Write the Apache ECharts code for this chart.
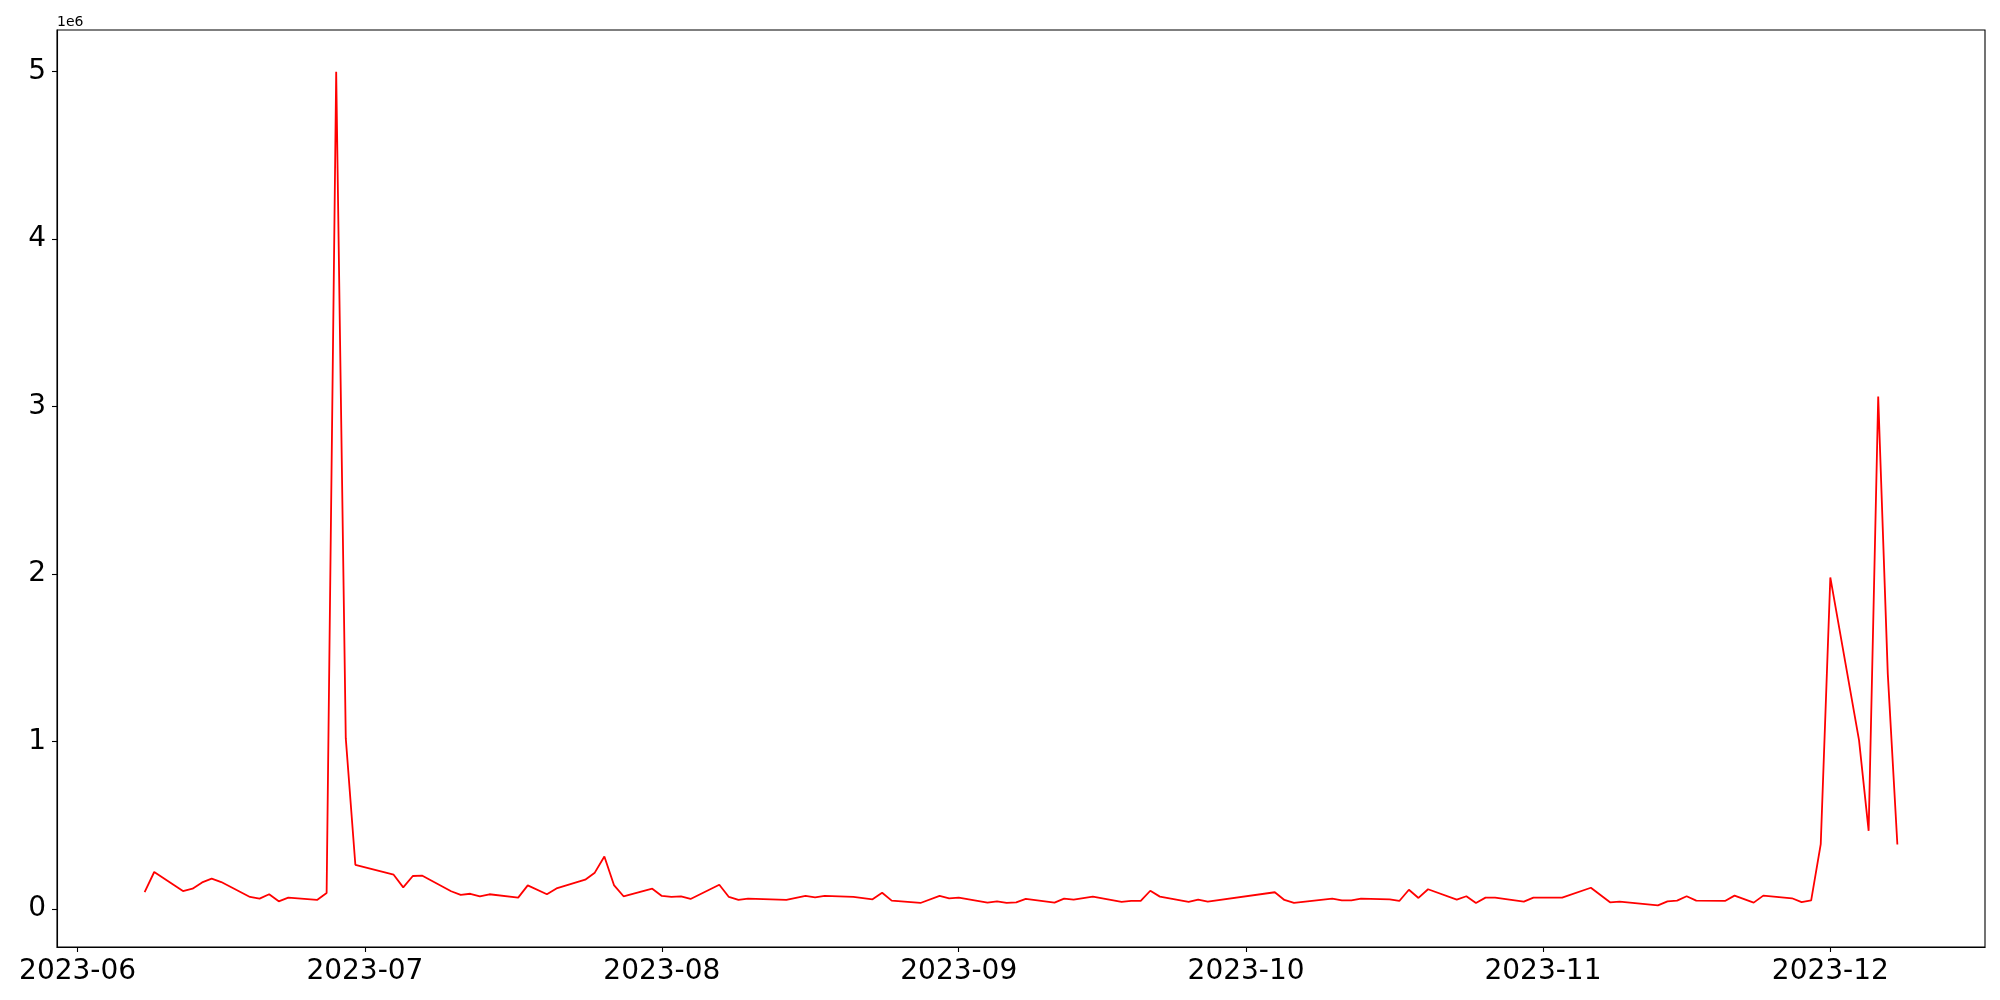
<!DOCTYPE html>
<html>
<head>
<meta charset="utf-8">
<script src="https://cdn.jsdelivr.net/npm/echarts@6/dist/echarts.min.js"></script>
<style>
  html, body { margin: 0; padding: 0; background: #fff; }
  #chart { width: 2000px; height: 1000px; }
</style>
</head>
<body>
<div id="chart"></div>
<script>
// ---- data ----
const dates = [
  '2023-06-08','2023-06-09','2023-06-12','2023-06-13','2023-06-14','2023-06-15','2023-06-16',
  '2023-06-19','2023-06-20','2023-06-21','2023-06-22','2023-06-23','2023-06-26','2023-06-27',
  '2023-06-28','2023-06-29','2023-06-30','2023-07-04','2023-07-05','2023-07-06','2023-07-07',
  '2023-07-10','2023-07-11','2023-07-12','2023-07-13','2023-07-14','2023-07-17','2023-07-18',
  '2023-07-20','2023-07-21','2023-07-24','2023-07-25','2023-07-26','2023-07-27','2023-07-28',
  '2023-07-31','2023-08-01','2023-08-02','2023-08-03','2023-08-04','2023-08-07','2023-08-08',
  '2023-08-09','2023-08-10','2023-08-14','2023-08-16','2023-08-17','2023-08-18','2023-08-21',
  '2023-08-23','2023-08-24','2023-08-25','2023-08-28','2023-08-30','2023-08-31','2023-09-01',
  '2023-09-04','2023-09-05','2023-09-06','2023-09-07','2023-09-08','2023-09-11','2023-09-12',
  '2023-09-13','2023-09-15','2023-09-18','2023-09-19','2023-09-20','2023-09-21','2023-09-22',
  '2023-09-25','2023-09-26','2023-09-27','2023-10-04','2023-10-05','2023-10-06','2023-10-10',
  '2023-10-11','2023-10-12','2023-10-13','2023-10-16','2023-10-17','2023-10-18','2023-10-19',
  '2023-10-20','2023-10-23','2023-10-24','2023-10-25','2023-10-26','2023-10-27','2023-10-30',
  '2023-10-31','2023-11-03','2023-11-06','2023-11-08','2023-11-09','2023-11-13','2023-11-14',
  '2023-11-15','2023-11-16','2023-11-17','2023-11-20','2023-11-21','2023-11-23','2023-11-24',
  '2023-11-27','2023-11-28','2023-11-29','2023-11-30','2023-12-01','2023-12-04','2023-12-05',
  '2023-12-06','2023-12-07','2023-12-08'
];
const values = [
  101000, 221000, 107000, 121000, 159000, 181000, 161000,
  72000, 62000, 88000, 46000, 68000, 54000, 95000,
  5000000, 1020000, 264000, 205000, 129000, 197000, 199000,
  106000, 84000, 91000, 76000, 88000, 68000, 141000,
  88000, 123000, 175000, 217000, 314000, 143000, 76000,
  121000, 78000, 72000, 76000, 60000, 145000, 72000,
  54000, 62000, 54000, 78000, 70000, 78000, 72000,
  58000, 97000, 50000, 36000, 78000, 64000, 68000,
  38000, 46000, 36000, 40000, 60000, 38000, 62000,
  56000, 74000, 42000, 48000, 48000, 109000, 74000,
  42000, 56000, 44000, 100000, 54000, 36000, 62000,
  52000, 52000, 62000, 58000, 48000, 115000, 66000,
  118000, 56000, 76000, 36000, 68000, 68000, 44000,
  68000, 68000, 127000, 40000, 44000, 22000, 46000,
  50000, 76000, 50000, 48000, 80000, 38000, 80000,
  64000, 41000, 51000, 388000, 1980000, 1007000, 467000,
  3060000, 1404000, 385000
];
const monthTicks = ['2023-06-01','2023-07-01','2023-08-01','2023-09-01','2023-10-01','2023-11-01','2023-12-01'];
const yTicks = [0, 1000000, 2000000, 3000000, 4000000, 5000000];
const offsetLabel = '1e6';

// ---- helpers ----
function ts(s) { const p = s.split('-').map(Number); return Date.UTC(p[0], p[1] - 1, p[2]); }
function pad(n) { return (n < 10 ? '0' : '') + n; }

const xs = dates.map(ts);
const xSpan = xs[xs.length - 1] - xs[0];
const xMin = xs[0] - 0.05 * xSpan;
const xMax = xs[xs.length - 1] + 0.05 * xSpan;
const vMin = Math.min.apply(null, values), vMax = Math.max.apply(null, values);
const ySpan = vMax - vMin;
const yMin = vMin - 0.05 * ySpan;
const yMax = vMax + 0.05 * ySpan;

const seriesData = xs.map((x, i) => [x, values[i]]);
const monthTs = monthTicks.map(ts);

const FONT = 'DejaVu Sans';
const chart = echarts.init(document.getElementById('chart'), null, { renderer: 'canvas' });
chart.setOption({
  animation: false,
  backgroundColor: '#ffffff',
  grid: {
    left: 57, right: 15, top: 30, bottom: 53,
    show: true, borderColor: '#000', borderWidth: 1.1, backgroundColor: 'transparent'
  },
  xAxis: {
    type: 'value',
    min: xMin, max: xMax,
    axisLine: { show: true, onZero: false, lineStyle: { color: '#000', width: 1.1 } },
    axisTick: { show: true, length: 5, lineStyle: { color: '#000', width: 1.1 }, customValues: monthTs },
    axisLabel: {
      show: true, customValues: monthTs, margin: 11,
      color: '#000', fontFamily: FONT, fontSize: 28,
      formatter: function (v) { const d = new Date(v); return d.getUTCFullYear() + '-' + pad(d.getUTCMonth() + 1); }
    },
    splitLine: { show: false },
    minorTick: { show: false }
  },
  yAxis: {
    type: 'value',
    min: yMin, max: yMax,
    name: offsetLabel,
    nameLocation: 'end',
    nameGap: 1,
    nameTextStyle: { color: '#000', fontFamily: FONT, fontSize: 14, align: 'left', verticalAlign: 'bottom', padding: [0, 0, 0, 0] },
    axisLine: { show: true, onZero: false, lineStyle: { color: '#000', width: 1.1 } },
    axisTick: { show: true, length: 5, lineStyle: { color: '#000', width: 1.1 }, customValues: yTicks },
    axisLabel: {
      show: true, customValues: yTicks, margin: 11,
      color: '#000', fontFamily: FONT, fontSize: 28,
      formatter: function (v) { return String(Math.round(v / 1e6)); }
    },
    splitLine: { show: false }
  },
  series: [{
    type: 'line',
    data: seriesData,
    showSymbol: false,
    symbol: 'none',
    lineStyle: { color: '#ff0000', width: 1.8 },
    itemStyle: { color: '#ff0000' }
  }]
});
</script>
</body>
</html>
